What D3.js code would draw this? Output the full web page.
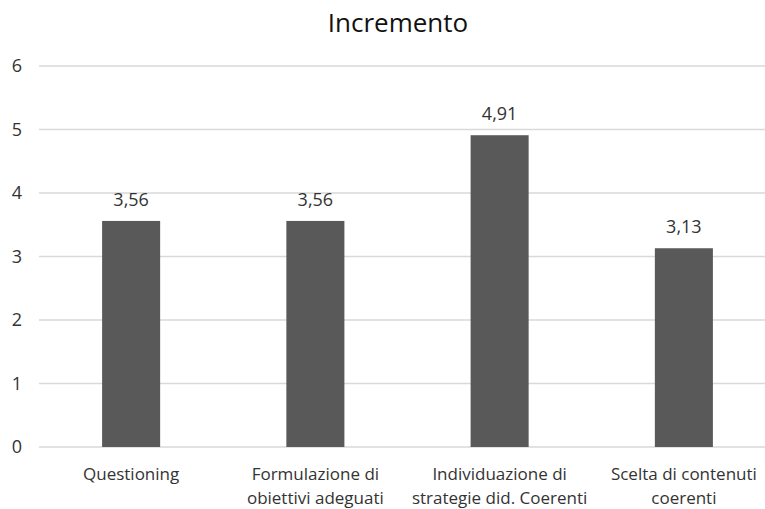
<!DOCTYPE html>
<html>
<head>
<meta charset="utf-8">
<script src="https://cdn.jsdelivr.net/npm/d3@7"></script>
<style>
  body { margin: 0; background: #fff; }
  svg { display: block; font-family: "Open Sans", "Noto Sans", sans-serif; }
</style>
</head>
<body>
<div id="chart"></div>
<script>
// data
var categories = [
  ["Questioning"],
  ["Formulazione di", "obiettivi adeguati"],
  ["Individuazione di", "strategie did. Coerenti"],
  ["Scelta di contenuti", "coerenti"]
];
var values = [3.56, 3.56, 4.91, 3.13];
var yTicks = [0, 1, 2, 3, 4, 5, 6];
var title = "Incremento";

// dimensions (plot runs past the right edge, as in the cropped original)
var W = 765, H = 509;
var margin = { top: 66, right: -11, bottom: 62, left: 39 },
  width = W - margin.left - margin.right,
  height = H - margin.top - margin.bottom;

var svg = d3
  .select("#chart")
  .append("svg")
  .attr("width", W)
  .attr("height", H);

var g = svg
  .append("g")
  .attr("transform", "translate(" + margin.left + "," + margin.top + ")");

var x = d3
  .scaleBand()
  .domain(d3.range(categories.length))
  .range([0, width])
  .paddingInner(0.685)
  .paddingOuter(0.3425);

var y = d3.scaleLinear().domain([0, 6]).range([height, 0]);

// gridlines
g.append("g")
  .selectAll("line")
  .data(yTicks)
  .enter()
  .append("line")
  .attr("x1", 0)
  .attr("x2", width)
  .attr("y1", function (d) { return y(d); })
  .attr("y2", function (d) { return y(d); })
  .style("stroke", "#d9d9d9")
  .style("stroke-width", 1.3);

// y axis labels
g.append("g")
  .selectAll("text")
  .data(yTicks)
  .enter()
  .append("text")
  .attr("x", -17)
  .attr("y", function (d) { return y(d); })
  .attr("dy", "0.36em")
  .attr("text-anchor", "end")
  .style("font-size", "18px")
  .style("fill", "#333")
  .text(function (d) { return d; });

// bars
g.selectAll("rect")
  .data(values)
  .enter()
  .append("rect")
  .attr("x", function (d, i) { return x(i); })
  .attr("y", function (d) { return y(d); })
  .attr("width", x.bandwidth())
  .attr("height", function (d) { return height - y(d); })
  .style("fill", "#595959");

// value labels
g.append("g")
  .selectAll("text")
  .data(values)
  .enter()
  .append("text")
  .attr("x", function (d, i) { return x(i) + x.bandwidth() / 2; })
  .attr("y", function (d) { return y(d) - 15; })
  .attr("text-anchor", "middle")
  .style("font-size", "18px")
  .style("fill", "#333")
  .text(function (d) { return d3.format(".2f")(d).replace(".", ","); });

// category labels
var cat = g.append("g")
  .selectAll("text")
  .data(categories)
  .enter()
  .append("text")
  .attr("x", function (d, i) { return x(i) + x.bandwidth() / 2; })
  .attr("y", height + 33)
  .attr("text-anchor", "middle")
  .style("font-size", "17px")
  .style("fill", "#333");

cat.selectAll("tspan")
  .data(function (d) { return d; })
  .enter()
  .append("tspan")
  .attr("x", function () { return d3.select(this.parentNode).attr("x"); })
  .attr("dy", function (d, i) { return i === 0 ? 0 : 24; })
  .text(function (d) { return d; });

// title
svg.append("text")
  .attr("x", 398)
  .attr("y", 32)
  .attr("text-anchor", "middle")
  .style("font-size", "26px")
  .style("fill", "#111")
  .text(title);
</script>
</body>
</html>
